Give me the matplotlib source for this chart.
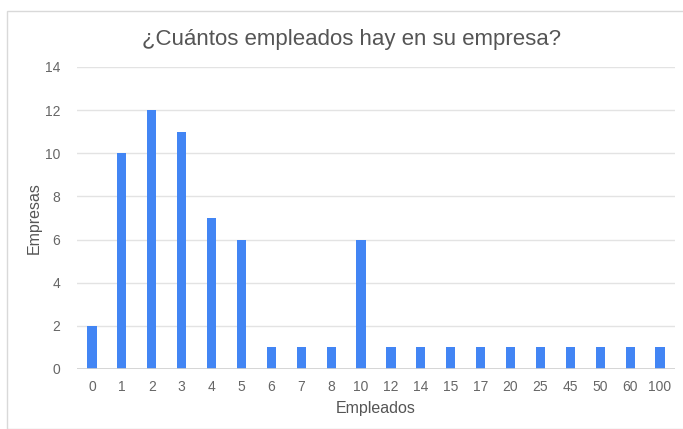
import matplotlib
matplotlib.use("Agg")
import matplotlib.pyplot as plt
from matplotlib.patches import Rectangle

plt.rcParams['font.family'] = ['Liberation Sans', 'DejaVu Sans']

empleados = ["0", "1", "2", "3", "4", "5", "6", "7", "8", "10",
             "12", "14", "15", "17", "20", "25", "45", "50", "60", "100"]
empresas = [2, 10, 12, 11, 7, 6, 1, 1, 1, 6,
            1, 1, 1, 1, 1, 1, 1, 1, 1, 1]

W, H = 683, 429
fig = plt.figure(figsize=(W / 100, H / 100), dpi=100)

# thin frame around the chart (cut off at right and bottom)
fig.patches.append(Rectangle((7 / W, 0), 1.0, 1 - 11 / H, transform=fig.transFigure,
                             fill=False, edgecolor="#d9d9d9", linewidth=1.0))

left, right, top, bottom = 77, 675, 67, 369
ax = fig.add_axes([left / W, 1 - bottom / H, (right - left) / W, (bottom - top) / H])

x = range(len(empleados))
ax.bar(x, empresas, width=0.31, color="#4285f4", zorder=3)

ax.set_xlim(-0.5, len(empleados) - 0.5)
ax.set_ylim(0, 14)
ax.set_yticks(range(0, 15, 2))
ax.set_xticks(list(x))
ax.set_xticklabels(empleados)
ax.grid(axis="y", color="#e3e3e3", linewidth=1.0, zorder=0)
ax.axhline(0, color="#d0d0d0", linewidth=1.2, zorder=4)
for s in ax.spines.values():
    s.set_visible(False)
ax.tick_params(length=0, labelsize=10, colors="#666666", pad=8)
ax.tick_params(axis="y", pad=12)

ax.set_xlabel("Empleados", fontsize=11.5, color="#555555", labelpad=5)
ax.set_ylabel("Empresas", fontsize=11.5, color="#555555", labelpad=2)
fig.text(352 / W, 1 - 40 / H, "¿Cuántos empleados hay en su empresa?",
         ha="center", va="center", fontsize=16, color="#555555")

fig.savefig("out.png", dpi=100)
